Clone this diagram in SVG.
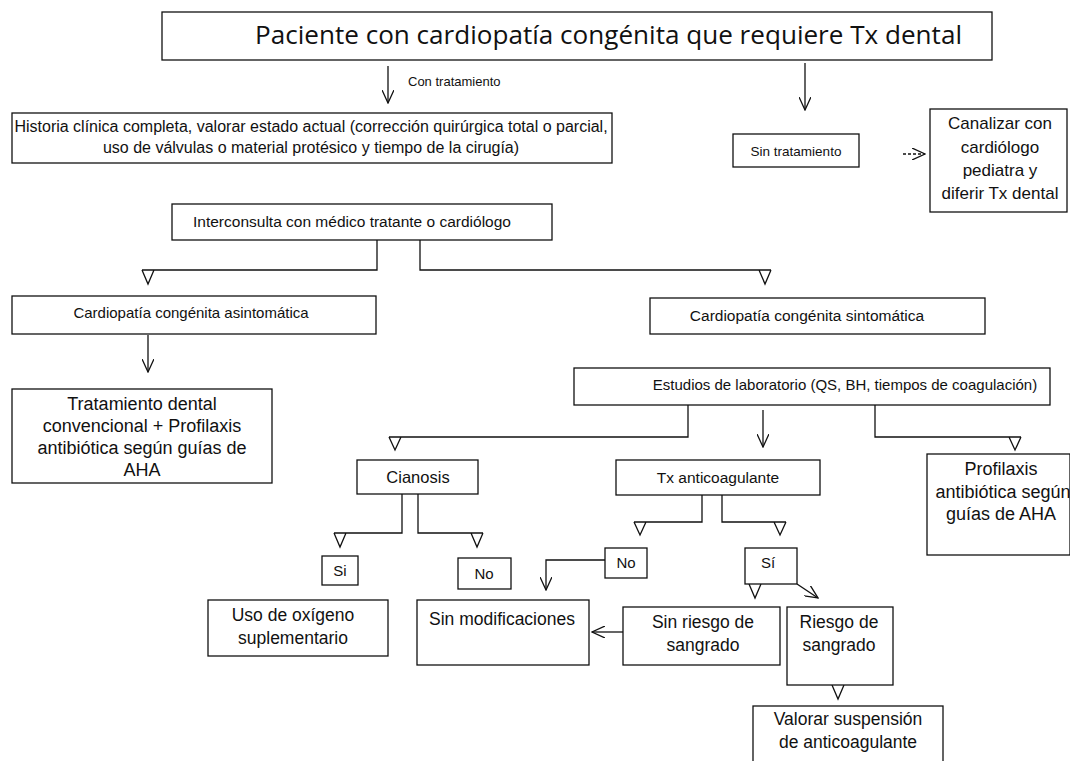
<svg xmlns="http://www.w3.org/2000/svg" width="1070" height="761" viewBox="0 0 1070 761">
<defs>
<style>
.box{fill:#fff;stroke:#111;stroke-width:1.3}
.t{font-family:"Liberation Sans",Arial,sans-serif;font-size:15px;fill:#111;text-anchor:middle}
.l{font-size:17.5px}
.c{fill:none;stroke:#111;stroke-width:1.3}
.dash{stroke-dasharray:3,2}
</style>
<marker id="v" viewBox="0 0 14 12" refX="13" refY="6" markerWidth="14" markerHeight="12" markerUnits="userSpaceOnUse" orient="auto">
<path d="M0,0 L13,6 L0,12" fill="none" stroke="#111" stroke-width="1.3"/>
</marker>
</defs>
<rect width="1070" height="761" fill="#fff"/>

<g id="connectors">
<path class="c" d="M388,66 V103" marker-end="url(#v)"/>
<path class="c" d="M805,63 V110" marker-end="url(#v)"/>
<path class="c dash" d="M903,154 H925" marker-end="url(#v)"/>
<path class="c" d="M377,240 V270 H142 M142,270 L148,284 L154,270"/>
<path class="c" d="M420,240 V270 H771 M759,270 L765,284 L771,270"/>
<path class="c" d="M148,335 V372" marker-end="url(#v)"/>
<path class="c" d="M688,405 V437 H389 M389,437 L395,450 L401,437"/>
<path class="c" d="M763,410 V447" marker-end="url(#v)"/>
<path class="c" d="M875,405 V437 H1021 M1009,437 L1015,450 L1021,437"/>
<path class="c" d="M402,494 V533 H334 M334,533 L340,547 L346,533"/>
<path class="c" d="M418,494 V533 H483 M471,533 L477,547 L483,533"/>
<path class="c" d="M702,495 V522 H634 M634,522 L640,535 L646,522"/>
<path class="c" d="M722,495 V522 H786 M774,522 L780,535 L786,522"/>
<path class="c" d="M605,560 H546 V590" marker-end="url(#v)"/>
<path class="c" d="M749,584 L755,598 L761,584"/>
<path class="c" d="M797,584 L818,598" marker-end="url(#v)"/>
<path class="c" d="M623,632 H592" marker-end="url(#v)"/>
<path class="c" d="M832,685 L838,699 L844,685"/>
<text class="t" x="408" y="86" style="text-anchor:start;font-size:13px">Con tratamiento</text>
</g>

<g id="n-paciente">
<rect class="box" x="162" y="12" width="830" height="48"/>
<text x="255" y="44" textLength="707" lengthAdjust="spacingAndGlyphs" style="font-family:'Open Sans','Noto Sans',sans-serif;font-size:25px;fill:#111">Paciente con cardiopatía congénita que requiere Tx dental</text>
</g>

<g id="n-historia">
<rect class="box" x="12" y="113" width="600" height="50"/>
<text class="t" x="311" y="132" style="font-size:16px">Historia clínica completa, valorar estado actual (corrección quirúrgica total o parcial,</text>
<text class="t" x="311" y="153" style="font-size:16px">uso de válvulas o material protésico y tiempo de la cirugía)</text>
</g>

<g id="n-sintx">
<rect class="box" x="733" y="134" width="126" height="33"/>
<text class="t" x="796" y="156" style="font-size:13.5px">Sin tratamiento</text>
</g>

<g id="n-canalizar">
<rect class="box" x="930" y="109" width="137" height="103"/>
<text class="t l" x="1000" y="129" style="font-size:17px">Canalizar con</text>
<text class="t l" x="1000" y="153" style="font-size:17px">cardiólogo</text>
<text class="t l" x="1000" y="176" style="font-size:17px">pediatra y</text>
<text class="t l" x="1000" y="199" style="font-size:17px">diferir Tx dental</text>
</g>

<g id="n-interconsulta">
<rect class="box" x="172" y="204" width="380" height="36"/>
<text class="t" x="352" y="227" style="font-size:15.5px">Interconsulta con médico tratante o cardiólogo</text>
</g>

<g id="n-asintomatica">
<rect class="box" x="12" y="296" width="364" height="38"/>
<text class="t" x="191" y="318">Cardiopatía congénita asintomática</text>
</g>

<g id="n-sintomatica">
<rect class="box" x="650" y="298" width="335" height="36"/>
<text class="t" x="807" y="321" style="font-size:15.5px">Cardiopatía congénita sintomática</text>
</g>

<g id="n-tratamiento">
<rect class="box" x="12" y="389" width="260" height="94"/>
<text class="t l" x="142" y="410" style="font-size:18px">Tratamiento dental</text>
<text class="t l" x="142" y="432" style="font-size:18px">convencional + Profilaxis</text>
<text class="t l" x="142" y="454" style="font-size:18px">antibiótica según guías de</text>
<text class="t l" x="142" y="476" style="font-size:18px">AHA</text>
</g>

<g id="n-estudios">
<rect class="box" x="574" y="368" width="476" height="37"/>
<text class="t" x="845" y="390">Estudios de laboratorio (QS, BH, tiempos de coagulación)</text>
</g>

<g id="n-cianosis">
<rect class="box" x="357" y="460" width="121" height="34"/>
<text class="t" x="418" y="483" style="font-size:16.5px">Cianosis</text>
</g>

<g id="n-anticoagulante">
<rect class="box" x="616" y="460" width="204" height="35"/>
<text class="t" x="718" y="483" style="font-size:15.5px">Tx anticoagulante</text>
</g>

<g id="n-profilaxis">
<rect class="box" x="927" y="454" width="143" height="101"/>
<text class="t l" x="1001" y="475" style="font-size:18px">Profilaxis</text>
<text class="t l" x="1003" y="498" style="font-size:18px">antibiótica según</text>
<text class="t l" x="1001" y="520" style="font-size:18px">guías de AHA</text>
</g>

<g id="n-si">
<rect class="box" x="322" y="556" width="36" height="29"/>
<text class="t" x="340" y="576">Si</text>
</g>

<g id="n-no1">
<rect class="box" x="458" y="558" width="53" height="31"/>
<text class="t" x="484" y="579">No</text>
</g>

<g id="n-no2">
<rect class="box" x="605" y="548" width="42" height="30"/>
<text class="t" x="626" y="568">No</text>
</g>

<g id="n-si2">
<rect class="box" x="745" y="548" width="52" height="36"/>
<text class="t" x="768" y="568">Sí</text>
</g>

<g id="n-oxigeno">
<rect class="box" x="208" y="600" width="180" height="56"/>
<text class="t l" x="293" y="621">Uso de oxígeno</text>
<text class="t l" x="293" y="644">suplementario</text>
</g>

<g id="n-sinmod">
<rect class="box" x="417" y="600" width="172" height="65"/>
<text class="t l" x="502" y="625">Sin modificaciones</text>
</g>

<g id="n-sinriesgo">
<rect class="box" x="623" y="607" width="157" height="58"/>
<text class="t l" x="703" y="628">Sin riesgo de</text>
<text class="t l" x="703" y="651">sangrado</text>
</g>

<g id="n-riesgo">
<rect class="box" x="787" y="607" width="106" height="78"/>
<text class="t l" x="839" y="628">Riesgo de</text>
<text class="t l" x="839" y="651">sangrado</text>
</g>

<g id="n-valorar">
<rect class="box" x="753" y="706" width="190" height="60"/>
<text class="t l" x="848" y="725">Valorar suspensión</text>
<text class="t l" x="848" y="748">de anticoagulante</text>
</g>
</svg>
